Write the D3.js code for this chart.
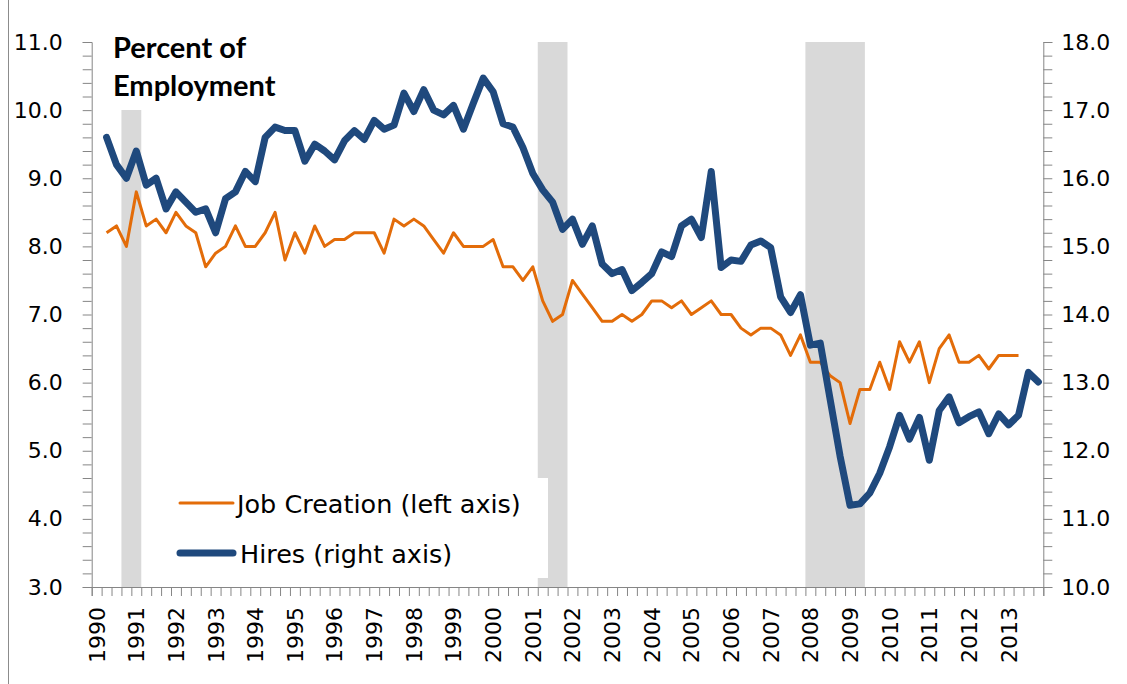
<!DOCTYPE html>
<html lang="en">
<head>
    <meta charset="UTF-8">
    <title>Job Creation and Hires</title>
    <style>
        body {
            margin: 0;
            background: #fff;
        }
        svg text {
            font-family: "DejaVu Sans", sans-serif;
            fill: #000;
        }
    </style>
</head>
<body>
    <script src="https://d3js.org/d3.v7.min.js"></script>
    <script>
        const W = 1127
        const H = 684

        // quarterly categories, 1990Q1 - 2013Q4
        const years = d3.range(1990, 2014)
        const quarters = years.flatMap(y => [1, 2, 3, 4].map(q => y + 'Q' + q))

        // job creation, percent of employment (left axis), from 1990Q2
        const jobCreation = [
            8.2, 8.3, 8.0, 8.8, 8.3, 8.4, 8.2, 8.5, 8.3, 8.2,
            7.7, 7.9, 8.0, 8.3, 8.0, 8.0, 8.2, 8.5, 7.8, 8.2,
            7.9, 8.3, 8.0, 8.1, 8.1, 8.2, 8.2, 8.2, 7.9, 8.4,
            8.3, 8.4, 8.3, 8.1, 7.9, 8.2, 8.0, 8.0, 8.0, 8.1,
            7.7, 7.7, 7.5, 7.7, 7.2, 6.9, 7.0, 7.5, 7.3, 7.1,
            6.9, 6.9, 7.0, 6.9, 7.0, 7.2, 7.2, 7.1, 7.2, 7.0,
            7.1, 7.2, 7.0, 7.0, 6.8, 6.7, 6.8, 6.8, 6.7, 6.4,
            6.7, 6.3, 6.3, 6.1, 6.0, 5.4, 5.9, 5.9, 6.3, 5.9,
            6.6, 6.3, 6.6, 6.0, 6.5, 6.7, 6.3, 6.3, 6.4, 6.2,
            6.4, 6.4, 6.4
        ]

        // hires, percent of employment (right axis), from 1990Q2
        const hires = [
            16.6, 16.2, 16.0, 16.4, 15.9, 16.0, 15.55, 15.8, 15.65, 15.5,
            15.55, 15.2, 15.7, 15.8, 16.1, 15.95, 16.6, 16.75, 16.7, 16.7,
            16.25, 16.5, 16.4, 16.27, 16.55, 16.7, 16.57, 16.85, 16.72, 16.78,
            17.25, 16.98, 17.3, 17.0, 16.93, 17.07, 16.72, 17.1, 17.47, 17.27,
            16.8, 16.75, 16.45, 16.07, 15.83, 15.65, 15.25, 15.4, 15.03, 15.3,
            14.74, 14.6, 14.66, 14.35, 14.47, 14.6, 14.92, 14.85, 15.3, 15.4,
            15.13, 16.1, 14.69, 14.8, 14.78, 15.02, 15.08, 14.98, 14.26, 14.03,
            14.29, 13.55, 13.58, 12.75, 11.92, 11.2, 11.22, 11.38, 11.67, 12.06,
            12.52, 12.17, 12.49, 11.86, 12.59, 12.79, 12.41, 12.5, 12.57, 12.25,
            12.54, 12.38, 12.52, 13.15, 13.01
        ]

        // recession quarters [first, last]
        const recessions = [
            ['1990Q4', '1991Q1'],
            ['2001Q2', '2001Q4'],
            ['2008Q1', '2009Q2']
        ]

        const leftTicks = [3, 4, 5, 6, 7, 8, 9, 10, 11]
        const rightTicks = [10, 11, 12, 13, 14, 15, 16, 17, 18]
        const yearLabels = years.map(String)

        const plot = { left: 91.7, right: 1043.3, top: 42, bottom: 587 }

        const x = d3.scaleBand()
            .domain(quarters)
            .range([plot.left, plot.right])
        const xEdge = d3.scaleLinear()
            .domain([0, quarters.length])
            .range([plot.left, plot.right])
        const yL = d3.scaleLinear().domain([3, 11]).range([plot.bottom, plot.top])
        const yR = d3.scaleLinear().domain([10, 18]).range([plot.bottom, plot.top])
        const cx = q => x(q) + x.bandwidth() / 2

        const jobData = jobCreation.map((v, i) => ({ q: quarters[i + 1], v }))
        const hireData = hires.map((v, i) => ({ q: quarters[i + 1], v }))

        const svg = d3.select('body')
            .append('svg')
            .attr('width', W)
            .attr('height', H)

        // outer border
        svg.append('line')
            .attr('x1', 8.5).attr('x2', 8.5)
            .attr('y1', 0).attr('y2', H)
            .attr('stroke', '#8c8c8c')

        // recession bands
        svg.append('g')
            .selectAll('rect')
            .data(recessions)
            .enter()
            .append('rect')
            .attr('x', d => x(d[0]))
            .attr('width', d => x(d[1]) + x.bandwidth() - x(d[0]))
            .attr('y', plot.top)
            .attr('height', plot.bottom - plot.top)
            .attr('fill', '#d9d9d9')

        const tickColor = '#868686'

        // left axis
        const gL = svg.append('g')
            .attr('transform', `translate(${plot.left}, 0)`)
            .call(d3.axisLeft(yL)
                .tickValues(d3.range(0, 41).map(i => 3 + i * 0.2))
                .tickSize(9)
                .tickPadding(20)
                .tickFormat(d => leftTicks.includes(Math.round(d * 100) / 100) ? d.toFixed(1) : ''))

        // right axis
        const gR = svg.append('g')
            .attr('transform', `translate(${plot.right}, 0)`)
            .call(d3.axisRight(yR)
                .tickValues(d3.range(0, 41).map(i => 10 + i * 0.2))
                .tickSize(9)
                .tickPadding(9)
                .tickFormat(d => rightTicks.includes(Math.round(d * 100) / 100) ? d.toFixed(1) : ''))

        // bottom axis: quarter boundary ticks
        const gB = svg.append('g')
            .attr('transform', `translate(0, ${plot.bottom})`)
            .call(d3.axisBottom(xEdge)
                .tickValues(d3.range(0, quarters.length + 1))
                .tickSize(9)
                .tickFormat(''))

        // year labels
        const gY = svg.append('g')
            .attr('transform', `translate(0, ${plot.bottom})`)
            .call(d3.axisBottom(x)
                .tickValues(years.map(y => y + 'Q1'))
                .tickSize(0)
                .tickFormat((d, i) => yearLabels[i]))
        gY.select('.domain').remove()
        gY.selectAll('text')
            .attr('transform', 'rotate(-90)')
            .attr('text-anchor', 'end')
            .attr('x', -20)
            .attr('y', 0)
            .attr('dy', '0.36em')

        svg.selectAll('.tick text').attr('font-size', 22).attr('font-family', 'DejaVu Sans')
        ;[gL, gR, gB].forEach(g => {
            g.selectAll('line').attr('stroke', tickColor)
            g.select('.domain').attr('stroke', tickColor)
        })

        // lines
        svg.append('path')
            .datum(jobData)
            .attr('fill', 'none')
            .attr('stroke', '#e36c09')
            .attr('stroke-width', 3)
            .attr('stroke-linejoin', 'round')
            .attr('d', d3.line().x(d => cx(d.q)).y(d => yL(d.v)))

        svg.append('path')
            .datum(hireData)
            .attr('fill', 'none')
            .attr('stroke', '#1f497d')
            .attr('stroke-width', 7)
            .attr('stroke-linejoin', 'round')
            .attr('stroke-linecap', 'round')
            .attr('d', d3.line().x(d => cx(d.q)).y(d => yR(d.v)))

        // title box
        svg.append('rect')
            .attr('x', 105).attr('y', 30)
            .attr('width', 190).attr('height', 80)
            .attr('fill', '#fff')
        const title = svg.append('text')
            .attr('x', 113)
            .attr('font-family', 'Lato')
            .attr('font-weight', 'bold')
            .attr('font-size', 29)
        title.append('tspan').attr('x', 113).attr('y', 58).attr('font-family', 'Lato').text('Percent of')
        title.append('tspan').attr('x', 113).attr('y', 95.5).attr('font-family', 'Lato').text('Employment')

        // legend box
        svg.append('rect')
            .attr('x', 150).attr('y', 478)
            .attr('width', 398).attr('height', 100)
            .attr('fill', '#fff')

        const legend = [
            { label: 'Job Creation (left axis)', color: '#e36c09', width: 3, y: 503, x1: 180, x2: 233, tx: 237 },
            { label: 'Hires (right axis)', color: '#1f497d', width: 7, y: 553, x1: 180, x2: 233, tx: 240 }
        ]
        const lg = svg.append('g')
            .selectAll('g')
            .data(legend)
            .enter()
            .append('g')
        lg.append('line')
            .attr('x1', d => d.x1).attr('x2', d => d.x2)
            .attr('y1', d => d.y).attr('y2', d => d.y)
            .attr('stroke', d => d.color)
            .attr('stroke-width', d => d.width)
            .attr('stroke-linecap', 'round')
        lg.append('text')
            .attr('x', d => d.tx)
            .attr('y', d => d.y + 10)
            .attr('font-size', 25.5)
            .text(d => d.label)
    </script>
</body>
</html>
